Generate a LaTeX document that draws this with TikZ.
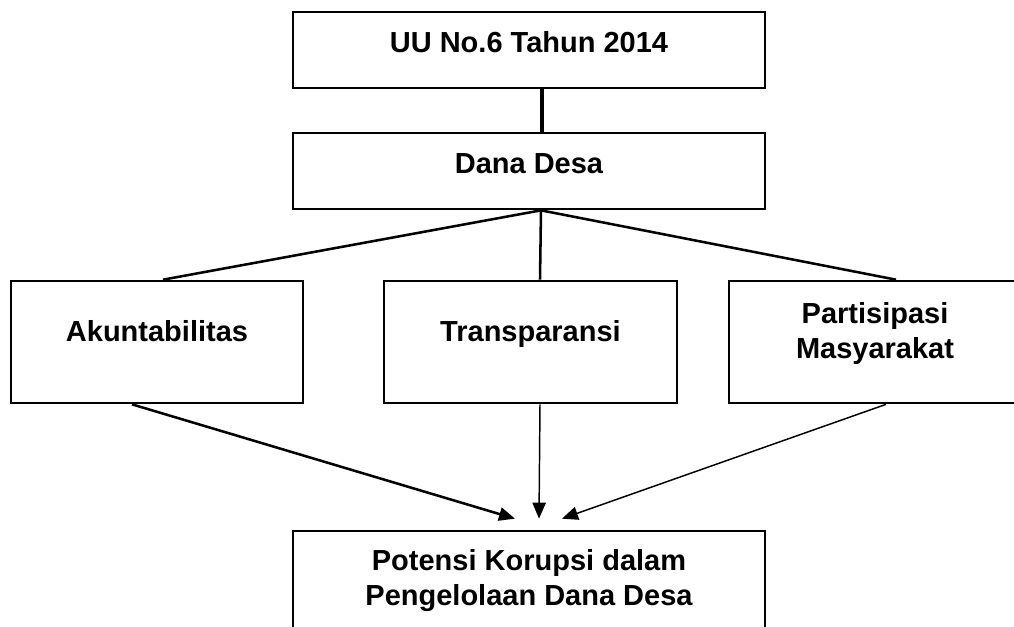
\documentclass[tikz,border=0pt]{standalone}
\usepackage{fontspec}
\setmainfont{Liberation Sans}
\usetikzlibrary{arrows.meta,calc}
\begin{document}
\begin{tikzpicture}[x=0.75pt,y=-0.75pt,
  box/.style={draw,line width=2pt,inner sep=0pt,rectangle},
  lbl/.style={font=\bfseries\fontsize{21.75}{26.25}\selectfont,align=center,inner sep=0pt,anchor=base},
  link/.style={line width=1.9pt},
  thicklink/.style={line width=2.5pt},
  thinlink/.style={line width=1.1pt},
  arr/.style={-{Triangle[length=12pt,width=10pt]}},
]
\useasboundingbox (0,0) rectangle (1014,626);
\clip (0,0) rectangle (1014,626);
\node[box,minimum width=472*0.75pt,minimum height=76*0.75pt] (top) at (529,50) {};
\node[box,minimum width=472*0.75pt,minimum height=76*0.75pt] (dana) at (529,171) {};
\node[box,minimum width=292*0.75pt,minimum height=122*0.75pt] (akun) at (157,342) {};
\node[box,minimum width=293*0.75pt,minimum height=122*0.75pt] (trans) at (530.5,342) {};
\node[box,minimum width=292*0.75pt,minimum height=122*0.75pt] (part) at (875,342) {};
\node[box,minimum width=472*0.75pt,minimum height=110*0.75pt] (bot) at (529,586) {};

\node[lbl] (ttop) at (529,52) {UU No.6 Tahun 2014};
\node[lbl] (tdana) at (529,173) {Dana Desa};
\node[lbl] (takun) at (157,341) {Akuntabilitas};
\node[lbl] (ttrans) at (530.5,341) {Transparansi};
\node[lbl] (tpart) at (875,358) {Partisipasi\\Masyarakat};
\node[lbl] (tbot) at (529,605) {Potensi Korupsi dalam\\Pengelolaan Dana Desa};

\coordinate (j) at ($(dana.south)+(12,0)$);
\coordinate (t1) at ($(bot.north)+(-14,-11)$);
\coordinate (t2) at ($(bot.north)+(10,-11)$);
\coordinate (t3) at ($(bot.north)+(33,-11)$);

\draw[thicklink] ($(top.south)+(13,0)$) -- ($(dana.north)+(13,0)$);
\draw[link] (j) -- ($(akun.north)+(6,0)$);
\draw[link] (j) -- ($(trans.north)+(9.5,0)$);
\draw[link] (j) -- ($(part.north)+(21,0)$);
\draw[link,arr] ($(akun.south)+(-25,0)$) -- (t1);
\draw[thinlink,arr] ($(trans.south)+(9.5,0)$) -- (t2);
\draw[thinlink,arr] ($(part.south)+(11,0)$) -- (t3);
\end{tikzpicture}
\end{document}
